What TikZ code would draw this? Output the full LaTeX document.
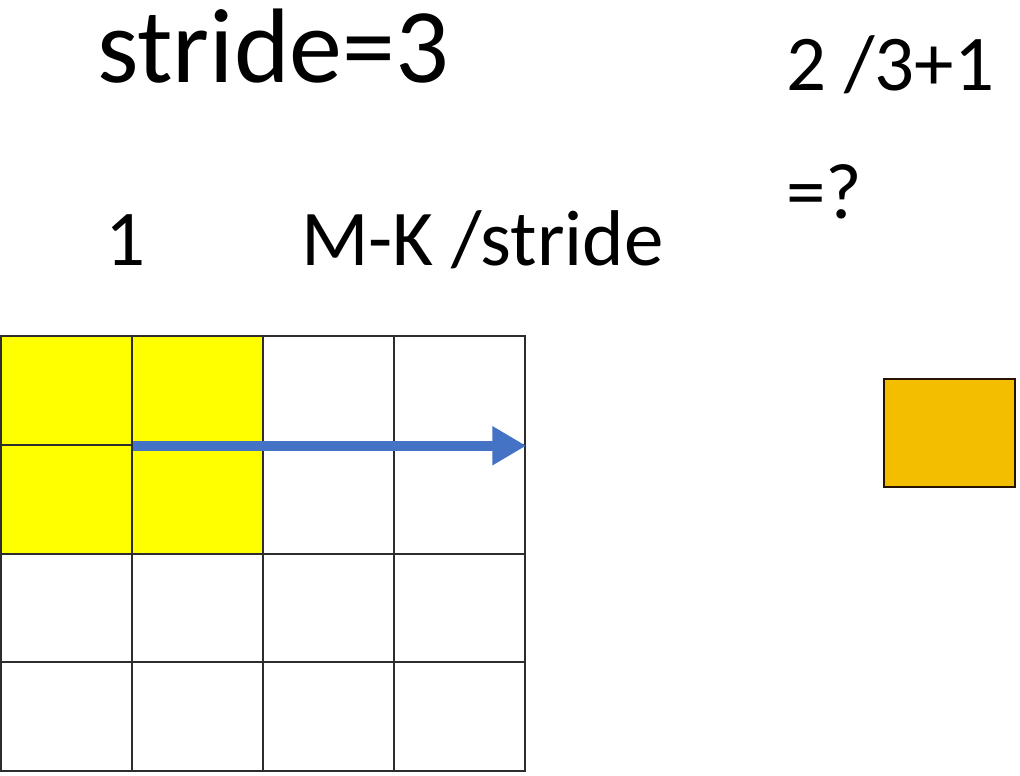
\documentclass[tikz,border=0pt]{standalone}
\usepackage{fontspec}
\setmainfont{Carlito}
\usetikzlibrary{arrows.meta}
\definecolor{arrowblue}{RGB}{68,114,196}
\definecolor{cellyellow}{RGB}{255,255,0}
\definecolor{boxorange}{RGB}{243,189,0}
\definecolor{gridline}{RGB}{45,45,45}
\tikzset{
  cell/.style={draw=gridline, line width=2pt, minimum width=131pt, minimum height=108.75pt, inner sep=0pt, anchor=north west},
  bigtxt/.style={anchor=base west, inner sep=0pt, font=\fontsize{106}{106}\selectfont},
  midtxt/.style={anchor=base west, inner sep=0pt, font=\fontsize{79}{79}\selectfont},
  conn/.style={draw=arrowblue, line width=10pt, -{Triangle[length=34pt,width=37pt]}},
}
\begin{document}
\begin{tikzpicture}[x=1pt,y=-1pt]
\useasboundingbox[fill=white] (0,0) rectangle (1020,776);
% grid cells
\foreach \r in {0,1,2,3}{
  \foreach \c in {0,1,2,3}{
    \pgfmathsetmacro{\isy}{(\r<2 && \c<2) ? 1 : 0}
    \ifdim\isy pt>0.5pt
      \node[cell, fill=cellyellow] (c\r\c) at ({-0.5+\c*131.25}, {335+\r*108.75}) {};
    \else
      \node[cell, fill=white] (c\r\c) at ({-0.5+\c*131.25}, {335+\r*108.75}) {};
    \fi
  }
}
% arrow
\coordinate (astart) at (c00.south east);
\coordinate (aend) at (c03.south east);
\draw[conn] (astart) -- (aend);
% orange box
\node[draw=black!85!orange, line width=2pt, fill=boxorange, minimum width=131pt, minimum height=108pt, inner sep=0pt, anchor=north west] (out) at (883,378) {};
% texts
\node[bigtxt] (stride) at (97,82) {stride=3};
\node[midtxt] (one) at (105,265) {1};
\node[midtxt] (mk) at (301,265) {M-K /stride};
\node[midtxt] (frac) at (786,90) {2 /3+1};
\node[midtxt] (eq) at (786,218) {=?};
\end{tikzpicture}
\end{document}
